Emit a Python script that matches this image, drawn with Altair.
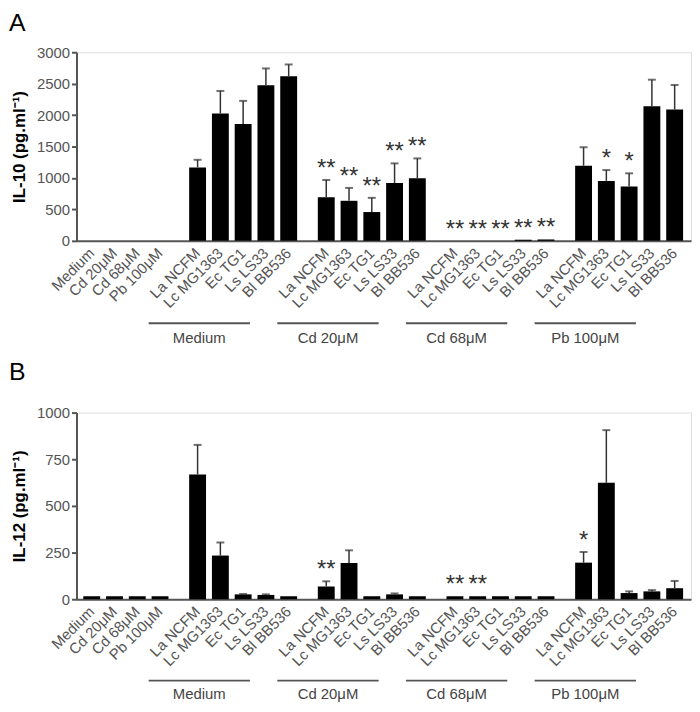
import altair as alt
import pandas as pd

FONT = "Liberation Sans"

controls = ["Medium", "Cd 20μM", "Cd 68μM", "Pb 100μM"]
strains = ["La NCFM", "Lc MG1363", "Ec TG1", "Ls LS33", "Bl BB536"]
groups = ["Medium", "Cd 20μM", "Cd 68μM", "Pb 100μM"]

# ---- Panel A : IL-10 ----
il10_controls = [0, 0, 0, 0]
il10_controls_up = [0, 0, 0, 0]
il10_medium = [1168, 2026, 1858, 2474, 2616]
il10_medium_up = [1289, 2384, 2226, 2742, 2805]
il10_cd20 = [695, 637, 458, 921, 995]
il10_cd20_up = [968, 842, 684, 1232, 1311]
il10_cd68 = [0, 0, 0, 18, 22]
il10_cd68_up = [0, 0, 0, 18, 22]
il10_pb100 = [1195, 953, 863, 2142, 2089]
il10_pb100_up = [1489, 1126, 1074, 2563, 2479]
il10_stars_controls = ["", "", "", ""]
il10_stars_medium = ["", "", "", "", ""]
il10_stars_cd20 = ["**", "**", "**", "**", "**"]
il10_stars_cd68 = ["**", "**", "**", "**", "**"]
il10_stars_pb100 = ["", "*", "*", "", ""]

# ---- Panel B : IL-12 ----
il12_controls = [16, 16, 16, 16]
il12_controls_up = [16, 16, 16, 16]
il12_medium = [668, 234, 26, 23, 16]
il12_medium_up = [827, 304, 28, 26, 16]
il12_cd20 = [68, 194, 16, 26, 16]
il12_cd20_up = [96, 262, 16, 31, 16]
il12_cd68 = [16, 16, 16, 16, 16]
il12_cd68_up = [16, 16, 16, 16, 16]
il12_pb100 = [196, 624, 33, 42, 59]
il12_pb100_up = [253, 906, 42, 49, 98]
il12_stars_controls = ["", "", "", ""]
il12_stars_medium = ["", "", "", "", ""]
il12_stars_cd20 = ["**", "", "", "", ""]
il12_stars_cd68 = ["**", "**", "", "", ""]
il12_stars_pb100 = ["*", "", "", "", ""]

GAP = 0.65  # extra slot spacing between groups
W = 619


def build(blocks):
    rows = []
    glines = []
    for g, (labels, vals, ups, stars) in enumerate(blocks):
        first = None
        for lab, v, u, s in zip(labels, vals, ups, stars):
            p = len(rows) + GAP * g
            if first is None:
                first = p
            rows.append(dict(pos=p, label=lab, value=v, upper=u,
                             top=max(v, u), star=s))
        if g > 0:
            start, end = first - 2.15, p - 1.7
            glines.append(dict(start=start, end=end, mid=(start + end) / 2,
                               name=groups[g - 1]))
    return pd.DataFrame(rows), pd.DataFrame(glines)


def panel(df, gdf, letter, letter_y, title, ymax, step, H, gline_off, gtext_off):
    xs = alt.Scale(domain=[-0.45, 26.1], nice=False, zero=False)
    ys = alt.Scale(domain=[0, ymax], nice=False)
    xaxis = alt.Axis(labels=False, ticks=False, grid=False, title=None,
                     domainColor="#555", domainWidth=2)
    yaxis = alt.Axis(values=list(range(0, ymax + 1, step)), format="d", grid=False,
                     labelFontSize=15, labelColor="#555", labelFont=FONT,
                     tickColor="#555", tickWidth=2, tickSize=5, labelPadding=2,
                     domainColor="#555", domainWidth=2,
                     titleFontSize=17, titleFontWeight="bold", titleColor="black",
                     titleFont=FONT, titlePadding=8)
    X = lambda f: alt.X(f, scale=xs, axis=xaxis, title=None)
    Y = lambda f: alt.Y(f, scale=ys, axis=yaxis, title=title)

    base = alt.Chart(df)
    bars = base.mark_bar(size=17, color="black").encode(x=X("pos:Q"), y=Y("value:Q"))
    err = base.transform_filter("datum.upper > datum.value")
    whisk = err.mark_rule(color="#333", strokeWidth=1.5).encode(
        x=X("pos:Q"), y=Y("value:Q"), y2="upper:Q")
    caps = err.mark_tick(orient="horizontal", size=8, thickness=2, color="#333").encode(
        x=X("pos:Q"), y=Y("upper:Q"))
    stars = base.transform_filter("datum.star != ''").mark_text(
        fontSize=24, dy=-11, baseline="middle", color="#333", font=FONT).encode(
        x=X("pos:Q"), y=Y("top:Q"), text="star:N")
    labels = base.mark_text(angle=315, align="right", baseline="middle",
                            fontSize=15, color="#555", font=FONT).encode(
        x=X("pos:Q"), y=alt.value(H + 10), text="label:N")
    gl = alt.Chart(gdf).mark_rule(color="#555", strokeWidth=2).encode(
        x=X("start:Q"), x2="end:Q", y=alt.value(H + gline_off))
    gt = alt.Chart(gdf).mark_text(fontSize=15, baseline="alphabetic",
                                  color="#444", font=FONT).encode(
        x=X("mid:Q"), y=alt.value(H + gtext_off), text="name:N")
    lt = alt.Chart(pd.DataFrame({"t": [letter]})).mark_text(
        fontSize=25, align="left", baseline="alphabetic", color="black", font=FONT).encode(
        x=alt.value(-68), y=alt.value(letter_y), text="t:N")
    return alt.layer(bars, whisk, caps, stars, labels, gl, gt, lt).properties(
        width=W, height=H)


dfA, gA = build([
    (controls, il10_controls, il10_controls_up, il10_stars_controls),
    (strains, il10_medium, il10_medium_up, il10_stars_medium),
    (strains, il10_cd20, il10_cd20_up, il10_stars_cd20),
    (strains, il10_cd68, il10_cd68_up, il10_stars_cd68),
    (strains, il10_pb100, il10_pb100_up, il10_stars_pb100),
])
dfB, gB = build([
    (controls, il12_controls, il12_controls_up, il12_stars_controls),
    (strains, il12_medium, il12_medium_up, il12_stars_medium),
    (strains, il12_cd20, il12_cd20_up, il12_stars_cd20),
    (strains, il12_cd68, il12_cd68_up, il12_stars_cd68),
    (strains, il12_pb100, il12_pb100_up, il12_stars_pb100),
])

pA = panel(dfA, gA, "A", -21, "IL-10 (pg.ml⁻¹)", 3000, 500, 190, 83, 103)
pB = panel(dfB, gB, "B", -33, "IL-12 (pg.ml⁻¹)", 1000, 250, 188, 82, 100)

chart = alt.vconcat(pA, pB, spacing=12).properties(padding=0).configure_view(
    stroke=None).configure(font=FONT)

chart.save("out.html", embed_options={"renderer": "svg", "actions": False})
